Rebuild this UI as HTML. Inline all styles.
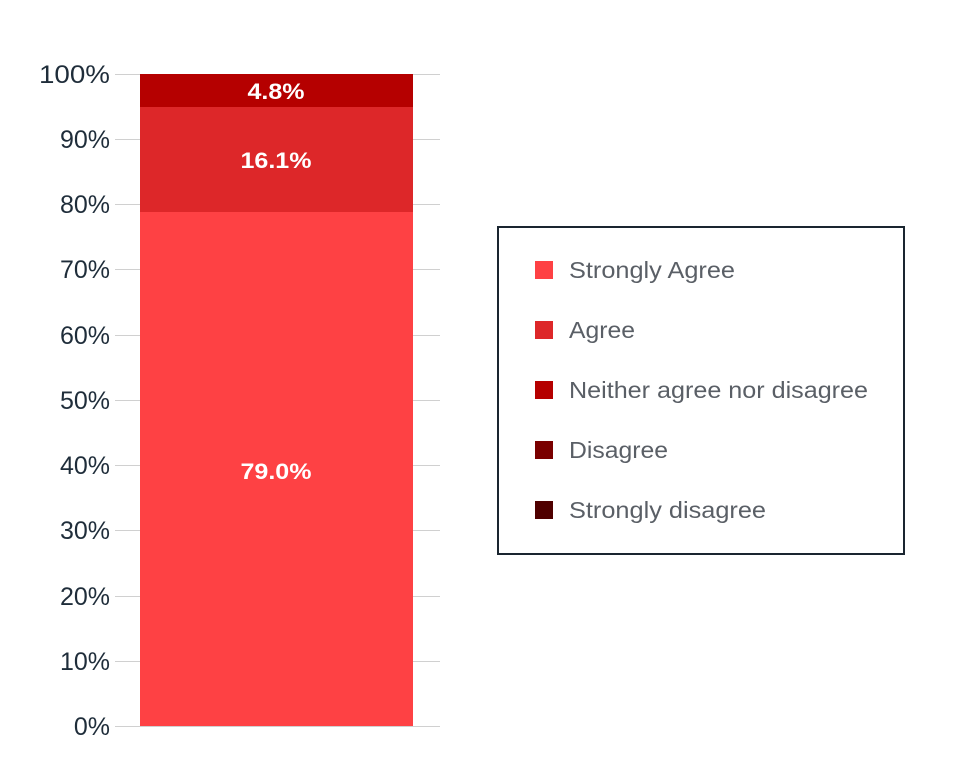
<!DOCTYPE html>
<html><head><style>body{margin:0;background:#fff}svg{display:block}</style></head><body>
<svg width="960" height="782" xmlns="http://www.w3.org/2000/svg" font-family="Liberation Sans, sans-serif">
<g stroke="#d0d0d0" stroke-width="1">
<line x1="115" x2="440" y1="74.5" y2="74.5"/><line x1="115" x2="440" y1="139.5" y2="139.5"/><line x1="115" x2="440" y1="204.5" y2="204.5"/><line x1="115" x2="440" y1="269.5" y2="269.5"/><line x1="115" x2="440" y1="335.5" y2="335.5"/><line x1="115" x2="440" y1="400.5" y2="400.5"/><line x1="115" x2="440" y1="465.5" y2="465.5"/><line x1="115" x2="440" y1="530.5" y2="530.5"/><line x1="115" x2="440" y1="596.5" y2="596.5"/><line x1="115" x2="440" y1="661.5" y2="661.5"/><line x1="115" x2="440" y1="726.5" y2="726.5"/>
</g>
<g font-size="25" fill="#1f2d3a" text-anchor="end">
<text x="110" y="83" textLength="71" lengthAdjust="spacingAndGlyphs">100%</text><text x="110" y="148">90%</text><text x="110" y="213">80%</text><text x="110" y="278">70%</text><text x="110" y="344">60%</text><text x="110" y="409">50%</text><text x="110" y="474">40%</text><text x="110" y="539">30%</text><text x="110" y="605">20%</text><text x="110" y="670">10%</text><text x="110" y="735">0%</text>
</g>
<rect x="140" y="211" width="273" height="515" fill="#fe4144"/>
<rect x="140" y="107" width="273" height="105" fill="#dd2729"/>
<rect x="140" y="74" width="273" height="33" fill="#b50000"/>
<g fill="#fff" font-size="22" font-weight="bold" text-anchor="middle">
<text x="276" y="99" textLength="57" lengthAdjust="spacingAndGlyphs">4.8%</text><text x="276" y="168" textLength="71" lengthAdjust="spacingAndGlyphs">16.1%</text><text x="276" y="479" textLength="71" lengthAdjust="spacingAndGlyphs">79.0%</text>
</g>
<rect x="498" y="227" width="406" height="327" fill="#fff" stroke="#1a2530" stroke-width="2"/>
<rect x="535" y="261" width="18" height="18" fill="#fe4144"/>
<rect x="535" y="321" width="18" height="18" fill="#dd2729"/>
<rect x="535" y="381" width="18" height="18" fill="#b50000"/>
<rect x="535" y="441" width="18" height="18" fill="#7a0000"/>
<rect x="535" y="501" width="18" height="18" fill="#4f0000"/>
<g font-size="23" fill="#5a5f66">
<text x="569" y="278" textLength="166" lengthAdjust="spacingAndGlyphs">Strongly Agree</text><text x="569" y="338" textLength="66" lengthAdjust="spacingAndGlyphs">Agree</text><text x="569" y="398" textLength="299" lengthAdjust="spacingAndGlyphs">Neither agree nor disagree</text><text x="569" y="458" textLength="99" lengthAdjust="spacingAndGlyphs">Disagree</text><text x="569" y="518" textLength="197" lengthAdjust="spacingAndGlyphs">Strongly disagree</text>
</g>
</svg>
</body></html>
